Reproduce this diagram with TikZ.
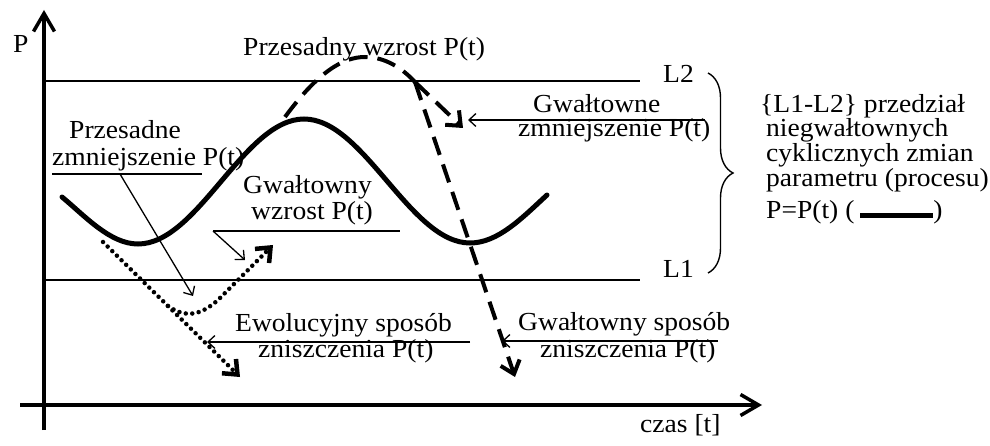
\documentclass[tikz,border=0pt]{standalone}
\usepackage{fontspec}
\setmainfont[FakeStretch=1.06]{Liberation Serif}
\usetikzlibrary{arrows.meta,decorations.pathreplacing}
\begin{document}
\begin{tikzpicture}[x=1pt,y=-1pt,
  txt/.style={anchor=base west,inner sep=0pt,font=\fontsize{26}{26}\selectfont},
  axisline/.style={line width=3.5pt,-{Straight Barb[length=18pt,width=21pt]}},
  thinline/.style={line width=1.3pt},
  thinarrow/.style={line width=1.3pt,-{Straight Barb[length=7pt,width=13pt]}},
  maincurve/.style={line width=5pt,line cap=round},
  dashcurve/.style={line width=4pt,dash pattern=on 19pt off 10pt},
  dotcurve/.style={line width=4.5pt,dash pattern=on 0pt off 6.5pt,line cap=round},
  bigtip/.style={-{Straight Barb[length=12pt,width=20pt]}},
]
\useasboundingbox (0,0) rectangle (990,446);

% axes
\coordinate (ybot) at (44,430);
\coordinate (ytop) at (44,10);
\coordinate (xleft) at (20,405);
\coordinate (xright) at (762,405);
\draw[axisline] (ybot) -- (ytop);
\draw[axisline] (xleft) -- (xright);
\node[txt] (Plab) at (13,53) {P};
\node[txt] (czas) at (640,432) {czas [t]};

% limit lines
\coordinate (L2a) at (44,81);  \coordinate (L2b) at (640,81);
\coordinate (L1a) at (44,280); \coordinate (L1b) at (640,280);
\draw[thinline] (L2a) -- (L2b);
\draw[thinline] (L1a) -- (L1b);
\node[txt] (L2) at (663,83) {L2};
\node[txt] (L1) at (663,278) {L1};

% brace
\coordinate (brtop) at (708,73);
\coordinate (brbot) at (708,273);
\draw[line width=1.4pt,decorate,decoration={brace,amplitude=25pt}] (brtop) -- (brbot);

% right description
\node[txt] (d1) at (760,113) {\{L1-L2\} przedział};
\node[txt] (d2) at (766,137) {niegwałtownych};
\node[txt] (d3) at (766,162) {cyklicznych zmian};
\node[txt] (d4) at (766,187) {parametru (procesu)};
\node[txt] (d5) at (766,219) {P=P(t) (\hspace{6pt}\rule[1pt]{73pt}{5pt})};

% main cyclic curve
\draw[maincurve] (62,197) .. controls (85,216) and (110,244) .. (138,244)
  .. controls (198,244) and (244,119) .. (304,119)
  .. controls (364,119) and (410,243) .. (470,243)
  .. controls (498,243) and (522,218) .. (547,195);

% dashed curves
\coordinate (dstart) at (285,117);
\coordinate (dsplit) at (415,82);
\coordinate (dend1) at (515,377);
\coordinate (dend2) at (463,128);
\draw[dashcurve] (dstart) .. controls (318,72) and (343,57) .. (365,57)
  .. controls (385,57) and (402,68) .. (dsplit);
\draw[dashcurve,bigtip] (dsplit) -- (dend1);
\draw[dashcurve,bigtip] (dsplit) -- (dend2);

% dotted curves
\coordinate (pstart) at (103,242);
\coordinate (psplit) at (168,306);
\coordinate (pend1) at (240,377);
\coordinate (pend2) at (273,245);
\draw[dotcurve,bigtip] (pstart) -- (pend1);
\draw[dotcurve,bigtip] (psplit) .. controls (185,318) and (200,316) .. (218,300) -- (pend2);

% labels
\node[txt] (t1) at (243,56) {Przesadny wzrost P(t)};
\node[txt] (t2a) at (533,113) {Gwałtowne};
\node[txt] (t2b) at (518,137) {zmniejszenie P(t)};
\node[txt] (t3a) at (69,139) {Przesadne};
\node[txt] (t3b) at (52,166) {zmniejszenie P(t)};
\node[txt] (t4a) at (243,194) {Gwałtowny};
\node[txt] (t4b) at (251,220) {wzrost P(t)};
\node[txt] (t5a) at (235,331) {Ewolucyjny sposób};
\node[txt] (t5b) at (258,357) {zniszczenia P(t)};
\node[txt] (t6a) at (518,330) {Gwałtowny sposób};
\node[txt] (t6b) at (540,357) {zniszczenia P(t)};

% pointer lines
\coordinate (u3a) at (52,174);  \coordinate (u3b) at (202,174);
\coordinate (u3s) at (120,174); \coordinate (u3e) at (193,296);
\draw[thinline] (u3a) -- (u3b);
\draw[thinarrow] (u3s) -- (u3e);

\coordinate (u4a) at (213,231); \coordinate (u4b) at (400,231);
\coordinate (u4e) at (245,260);
\draw[thinline] (u4a) -- (u4b);
\draw[thinarrow] (u4a) -- (u4e);

\coordinate (u2s) at (705,120); \coordinate (u2e) at (468,120);
\draw[thinarrow] (u2s) -- (u2e);

\coordinate (u5s) at (470,342); \coordinate (u5e) at (207,342);
\draw[thinarrow] (u5s) -- (u5e);

\coordinate (u6s) at (718,341); \coordinate (u6e) at (502,341);
\draw[thinarrow] (u6s) -- (u6e);
\end{tikzpicture}
\end{document}
